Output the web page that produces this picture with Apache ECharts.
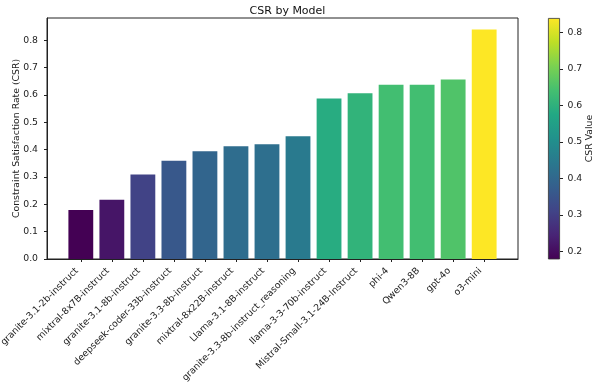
<!DOCTYPE html>
<html>
<head>
<meta charset="utf-8">
<script src="https://cdn.jsdelivr.net/npm/echarts@6/dist/echarts.min.js"></script>
<style>html,body{margin:0;padding:0;background:#fff}#c{width:596px;height:382px}</style>
</head>
<body>
<div id="c"></div>
<script>
const categories = [
  'granite-3.1-2b-instruct', 'mixtral-8x7B-instruct', 'granite-3.1-8b-instruct',
  'deepseek-coder-33b-instruct', 'granite-3.3-8b-instruct', 'mixtral-8x22B-instruct',
  'Llama-3.1-8B-instruct', 'granite-3.3-8b-instruct_reasoning', 'llama-3-3-70b-instruct',
  'Mistral-Small-3.1-24B-Instruct', 'phi-4', 'Qwen3-8B', 'gpt-4o', 'o3-mini'
];
const csrValues = [0.179, 0.217, 0.309, 0.360, 0.394, 0.413, 0.420, 0.449, 0.587, 0.607, 0.638, 0.638, 0.657, 0.840];
const yTicks = [0, 0.1, 0.2, 0.3, 0.4, 0.5, 0.6, 0.7, 0.8];
const colorbarTicks = [0.2, 0.3, 0.4, 0.5, 0.6, 0.7, 0.8];
const viridis = ['#440154', '#482475', '#414487', '#355f8d', '#2a788e', '#21918c', '#22a884', '#44bf70', '#7ad151', '#bddf26', '#fde725'];

const FONT = 'DejaVu Sans';
const vMin = Math.min(...csrValues);
const vMax = Math.max(...csrValues);
const n = categories.length;
const xPad = 0.05 * (n - 1 + 0.8);

const chart = echarts.init(document.getElementById('c'), null, {renderer: 'canvas'});
chart.setOption({
  animation: false,
  textStyle: {fontFamily: FONT},
  title: {
    text: 'CSR by Model', left: 282.5, textAlign: 'center', top: 1,
    textStyle: {fontFamily: FONT, fontSize: 11, fontWeight: 'normal', color: '#111'}
  },
  grid: [
    {left: 47, right: 78, top: 18, bottom: 123, containLabel: false, outerBoundsMode: 'none',
     show: true, borderColor: '#222', borderWidth: 1, backgroundColor: 'transparent'},
    {left: 548, width: 12, top: 18, bottom: 123, containLabel: false, outerBoundsMode: 'none'}
  ],
  visualMap: {
    show: false, type: 'continuous', seriesIndex: 0, dimension: 1,
    min: vMin, max: vMax, inRange: {color: viridis}
  },
  xAxis: [
    {
      type: 'value', gridIndex: 0, min: -0.4 - xPad, max: n - 1 + 0.4 + xPad, z: 5,
      splitLine: {show: false},
      axisLine: {show: true, onZero: false, lineStyle: {color: '#222', width: 1}},
      axisTick: {show: true, length: 3, customValues: categories.map((_, i) => i), lineStyle: {color: '#222'}},
      axisLabel: {
        customValues: categories.map((_, i) => i), rotate: 45, margin: 6.5,
        padding: [0, 5.5, 0, 0],
        fontSize: 9.3, color: '#222', fontFamily: FONT,
        formatter: v => categories[Math.round(v)]
      }
    },
    {type: 'category', gridIndex: 1, data: ['cb'], show: false}
  ],
  yAxis: [
    {
      type: 'value', gridIndex: 0, min: 0, max: vMax * 1.05, z: 5,
      splitLine: {show: false},
      axisLine: {show: true, onZero: false, lineStyle: {color: '#222', width: 1}},
      axisTick: {show: true, length: 3, customValues: yTicks, lineStyle: {color: '#222'}},
      axisLabel: {customValues: yTicks, margin: 9, fontSize: 9.3, color: '#222', fontFamily: FONT, formatter: v => v.toFixed(1)},
      name: 'Constraint Satisfaction Rate (CSR)', nameLocation: 'middle', nameGap: 26, nameMoveOverlap: false,
      nameTextStyle: {fontSize: 9.3, color: '#222', fontFamily: FONT}
    },
    {
      type: 'value', gridIndex: 1, position: 'right', min: vMin, max: vMax,
      splitLine: {show: false},
      axisLine: {show: false},
      axisTick: {show: true, length: 3, customValues: colorbarTicks, lineStyle: {color: '#222'}},
      axisLabel: {customValues: colorbarTicks, margin: 7.5, fontSize: 9.3, color: '#222', fontFamily: FONT, formatter: v => v.toFixed(1)},
      name: 'CSR Value', nameLocation: 'middle', nameGap: 25, nameRotate: 90, nameMoveOverlap: false,
      nameTextStyle: {fontSize: 9.3, color: '#222', fontFamily: FONT}
    }
  ],
  series: [
    {
      type: 'bar', xAxisIndex: 0, yAxisIndex: 0, barWidth: '80%',
      data: csrValues.map((v, i) => [i, v])
    },
    {
      type: 'bar', xAxisIndex: 1, yAxisIndex: 1, barWidth: '100%',
      data: [vMax],
      itemStyle: {
        borderColor: '#333', borderWidth: 0.8,
        color: new echarts.graphic.LinearGradient(0, 1, 0, 0,
          viridis.map((c, i) => ({offset: i / (viridis.length - 1), color: c})))
      }
    }
  ]
});
</script>
</body>
</html>
